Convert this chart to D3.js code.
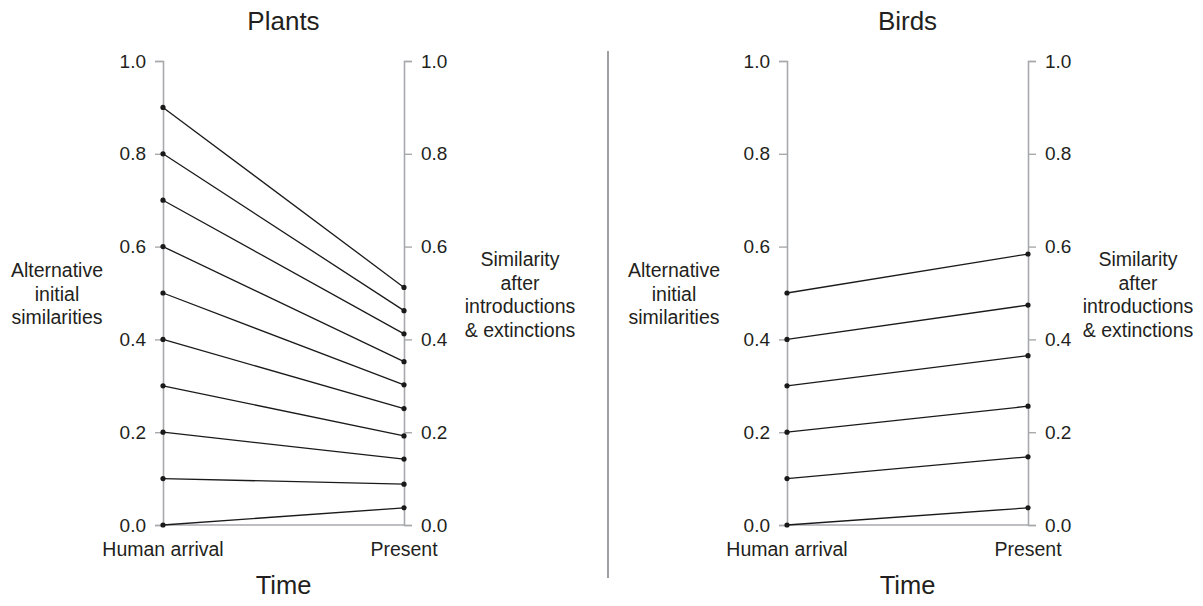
<!DOCTYPE html>
<html>
<head>
<meta charset="utf-8">
<script src="https://cdn.jsdelivr.net/npm/d3@7"></script>
<style>
  html, body { margin: 0; padding: 0; background: #fff; }
  svg { display: block; font-family: "Liberation Sans", Arial, Helvetica, sans-serif; }
</style>
</head>
<body>
<svg id="chart" width="1203" height="606"></svg>
<script>
// Similarity values at human arrival and at present
const timePoints = ["Human arrival", "Present"];
const yTicks = [0, 0.2, 0.4, 0.6, 0.8, 1.0];

const plantsInitial = [0.9, 0.8, 0.7, 0.6, 0.5, 0.4, 0.3, 0.2, 0.1, 0.0];
const plantsPresent = [0.512, 0.462, 0.412, 0.352, 0.302, 0.251, 0.192, 0.142, 0.088, 0.037];

const birdsInitial = [0.5, 0.4, 0.3, 0.2, 0.1, 0.0];
const birdsPresent = [0.584, 0.474, 0.365, 0.256, 0.147, 0.037];

const leftLabel = ["Alternative", "initial", "similarities"];
const rightLabel = ["Similarity", "after", "introductions", "& extinctions"];

const svg = d3.select("#chart");
const textColor = "#231f20";
const axisColor = "#a7a9ac";

const y = d3.scaleLinear().domain([0, 1]).range([525, 61]);

function drawPanel(title, initial, present, x0, x1, leftCx, rightCx) {
  const x = d3.scalePoint().domain(timePoints).range([x0, x1]);
  const g = svg.append("g");

  // Axes on both sides
  const axL = g.append("g").attr("transform", `translate(${x0},0)`)
    .call(d3.axisLeft(y).tickValues(yTicks).tickFormat(d3.format(".1f")).tickSize(8).tickPadding(9));
  const axR = g.append("g").attr("transform", `translate(${x1},0)`)
    .call(d3.axisRight(y).tickValues(yTicks).tickFormat(d3.format(".1f")).tickSize(8).tickPadding(9));
  [axL, axR].forEach(ax => {
    ax.select(".domain").attr("stroke", axisColor).attr("stroke-width", 1.6);
    ax.selectAll(".tick line").attr("stroke", axisColor).attr("stroke-width", 1.4);
    ax.selectAll(".tick text").attr("fill", textColor).style("font-size", "19px")
      .style("font-family", "Liberation Sans, Arial, sans-serif");
  });
  // Bottom baseline
  g.append("line").attr("x1", x0).attr("x2", x1).attr("y1", y(0)).attr("y2", y(0))
    .attr("stroke", axisColor).attr("stroke-width", 1.4);

  // Connecting lines
  const pairs = initial.map((v, i) => [v, present[i]]);
  g.selectAll("line.link").data(pairs).join("line")
    .attr("class", "link")
    .attr("x1", x(timePoints[0])).attr("y1", d => y(d[0]))
    .attr("x2", x(timePoints[1])).attr("y2", d => y(d[1]))
    .attr("stroke", "#1a1a1a").attr("stroke-width", 1.3);

  // Endpoints
  const pts = [];
  pairs.forEach(d => { pts.push([timePoints[0], d[0]]); pts.push([timePoints[1], d[1]]); });
  g.selectAll("circle").data(pts).join("circle")
    .attr("cx", d => x(d[0])).attr("cy", d => y(d[1])).attr("r", 2.6)
    .attr("fill", "#1a1a1a");

  // Time point labels
  g.selectAll("text.tp").data(timePoints).join("text")
    .attr("class", "tp")
    .attr("x", d => x(d)).attr("y", 556)
    .attr("text-anchor", "middle").attr("fill", textColor).style("font-size", "19.5px")
    .text(d => d);

  // Title and axis title
  g.append("text").attr("x", (x0 + x1) / 2).attr("y", 30).attr("text-anchor", "middle")
    .attr("fill", textColor).style("font-size", "26px").text(title);
  g.append("text").attr("x", (x0 + x1) / 2).attr("y", 594).attr("text-anchor", "middle")
    .attr("fill", textColor).style("font-size", "25.5px").text("Time");

  // Side labels
  g.append("text").attr("text-anchor", "middle").attr("fill", textColor).style("font-size", "19.5px")
    .selectAll("tspan").data(leftLabel).join("tspan")
    .attr("x", leftCx).attr("y", (d, i) => 277 + i * 23.6).text(d => d);
  g.append("text").attr("text-anchor", "middle").attr("fill", textColor).style("font-size", "19.5px")
    .selectAll("tspan").data(rightLabel).join("tspan")
    .attr("x", rightCx).attr("y", (d, i) => 266 + i * 23.6).text(d => d);
}

drawPanel("Plants", plantsInitial, plantsPresent, 163, 404, 57, 520);
drawPanel("Birds", birdsInitial, birdsPresent, 787, 1028, 674, 1138);

// Divider between panels
svg.append("line").attr("x1", 608).attr("x2", 608).attr("y1", 51).attr("y2", 578)
  .attr("stroke", "#9d9fa2").attr("stroke-width", 2);
</script>
</body>
</html>
